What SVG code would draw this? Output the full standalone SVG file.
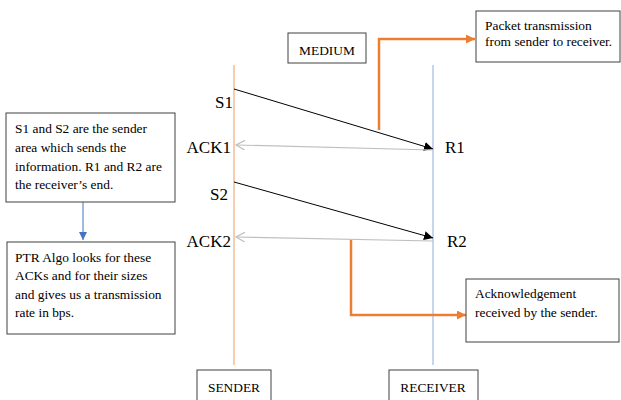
<svg xmlns="http://www.w3.org/2000/svg" width="621" height="400" viewBox="0 0 621 400" font-family="'Liberation Serif', 'Times New Roman', Times, 'DejaVu Serif', serif">
<style>
  text { font-family: "Liberation Serif", "Times New Roman", Times, "DejaVu Serif", serif; fill: #000; }
  .box { fill: #fff; stroke: #404040; stroke-width: 1; }
  .lbl { font-size: 17px; }
  .t { font-size: 13.4px; }
  .life-s { stroke: #F4B183; stroke-width: 1.3; fill: none; }
  .life-r { stroke: #A9C0E6; stroke-width: 1.3; fill: none; }
  .msg { stroke: #000; stroke-width: 1; fill: none; }
  .ack { stroke: #BFBFBF; stroke-width: 1.2; fill: none; }
  .orange { stroke: #ED7D31; stroke-width: 2.5; fill: none; }
  .blue { stroke: #4472C4; stroke-width: 1; fill: none; }
</style>
<defs>
  <marker id="mBlack" viewBox="0 0 10 10" refX="10" refY="5" markerWidth="9" markerHeight="9" markerUnits="userSpaceOnUse" orient="auto">
    <path d="M0,0 L10,5 L0,10 z" fill="#000"/>
  </marker>
  <marker id="mAck" viewBox="0 0 10 10" refX="9" refY="5" markerWidth="10" markerHeight="10" markerUnits="userSpaceOnUse" orient="auto">
    <path d="M0,0 L9,5 L0,10" fill="none" stroke="#BFBFBF" stroke-width="1.2"/>
  </marker>
  <marker id="mOrange" viewBox="0 0 10 10" refX="10" refY="5" markerWidth="9" markerHeight="9" markerUnits="userSpaceOnUse" orient="auto">
    <path d="M0,0 L10,5 L0,10 z" fill="#ED7D31"/>
  </marker>
  <marker id="mBlue" viewBox="0 0 10 10" refX="10" refY="5" markerWidth="8" markerHeight="8" markerUnits="userSpaceOnUse" orient="auto">
    <path d="M0,0 L10,5 L0,10 z" fill="#4472C4"/>
  </marker>
</defs>

<g id="lifelines">
  <line class="life-s" x1="234" y1="65" x2="234" y2="365"/>
  <line class="life-r" x1="433" y1="65" x2="433" y2="365"/>
</g>

<g id="connectors">
  <line class="msg" x1="234" y1="89" x2="433" y2="149" marker-end="url(#mBlack)"/>
  <line class="ack" x1="433" y1="150" x2="236" y2="145" marker-end="url(#mAck)"/>
  <line class="msg" x1="234" y1="182" x2="433" y2="238" marker-end="url(#mBlack)"/>
  <line class="ack" x1="433" y1="241" x2="236" y2="237" marker-end="url(#mAck)"/>
  <polyline class="orange" points="379,130 379,39 475,39" marker-end="url(#mOrange)"/>
  <polyline class="orange" points="351,240 351,315 466,315" marker-end="url(#mOrange)"/>
  <line class="blue" x1="83" y1="202" x2="83" y2="240" marker-end="url(#mBlue)"/>
</g>

<g id="labels">
  <text class="lbl" x="233" y="108" text-anchor="end">S1</text>
  <text class="lbl" x="231" y="153" text-anchor="end">ACK1</text>
  <text class="lbl" x="228" y="200" text-anchor="end">S2</text>
  <text class="lbl" x="231" y="247" text-anchor="end">ACK2</text>
  <text class="lbl" x="445" y="153">R1</text>
  <text class="lbl" x="447" y="247">R2</text>
</g>

<g id="medium">
  <rect class="box" x="288" y="33" width="78" height="30"/>
  <text class="t" x="327" y="55" text-anchor="middle">MEDIUM</text>
</g>

<g id="packet-note">
  <rect class="box" x="476" y="11" width="144" height="51"/>
  <text class="t" x="485" y="30">Packet transmission</text>
  <text class="t" x="485" y="46">from sender to receiver.</text>
</g>

<g id="ack-note">
  <rect class="box" x="466" y="279" width="153" height="63"/>
  <text class="t" x="475" y="298">Acknowledgement</text>
  <text class="t" x="475" y="317">received by the sender.</text>
</g>

<g id="s-note">
  <rect class="box" x="6" y="113" width="169" height="89"/>
  <text class="t" x="15" y="133">S1 and S2 are the sender</text>
  <text class="t" x="15" y="152">area which sends the</text>
  <text class="t" x="15" y="171">information. R1 and R2 are</text>
  <text class="t" x="15" y="189">the receiver’s end.</text>
</g>

<g id="ptr-note">
  <rect class="box" x="7" y="242" width="168" height="92"/>
  <text class="t" x="15" y="262">PTR Algo looks for these</text>
  <text class="t" x="15" y="280">ACKs and for their sizes</text>
  <text class="t" x="15" y="299">and gives us a transmission</text>
  <text class="t" x="15" y="317">rate in bps.</text>
</g>

<g id="sender">
  <rect class="box" x="197" y="370" width="74" height="40"/>
  <text class="t" x="234" y="392" text-anchor="middle">SENDER</text>
</g>

<g id="receiver">
  <rect class="box" x="389" y="370" width="89" height="40"/>
  <text class="t" x="433" y="392" text-anchor="middle">RECEIVER</text>
</g>
</svg>
